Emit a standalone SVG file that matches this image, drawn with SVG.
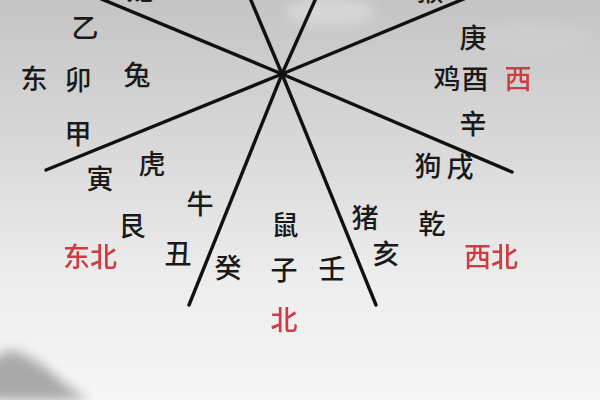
<svg xmlns="http://www.w3.org/2000/svg" width="600" height="400" viewBox="0 0 600 400">
<defs>
<linearGradient id="bg" x1="0" y1="0" x2="0" y2="1">
<stop offset="0" stop-color="#c4c4c4"/>
<stop offset="0.35" stop-color="#d8d8d8"/>
<stop offset="0.7" stop-color="#ededed"/>
<stop offset="1" stop-color="#f6f6f6"/>
</linearGradient>
<filter id="blur" x="-50%" y="-50%" width="200%" height="200%"><feGaussianBlur stdDeviation="6"/></filter>
<filter id="glow" x="-20%" y="-20%" width="140%" height="140%"><feGaussianBlur stdDeviation="0.6"/></filter>
<style>
.t{font-family:"Noto Sans CJK SC","Noto Sans",sans-serif;font-size:27px;font-weight:500;fill:#1a1a1a;text-anchor:middle;dominant-baseline:central}
.r{fill:#cf3a42}
.ln{stroke:#111;stroke-width:3.4;stroke-linecap:round;fill:none}
</style>
</defs>
<rect width="600" height="400" fill="url(#bg)"/>
<g id="scenery">
<ellipse cx="330" cy="12" rx="45" ry="14" fill="#e2e2e2" opacity="0.6" filter="url(#blur)"/>
<ellipse cx="530" cy="40" rx="60" ry="18" fill="#d2d2d2" opacity="0.5" filter="url(#blur)"/>
<path d="M-10 400 L-10 360 Q10 345 25 355 Q45 365 60 380 Q75 392 90 400 Z" fill="#a9a9a9" filter="url(#blur)"/>
</g>
<g id="connectors">
<line class="ln" x1="282" y1="74" x2="99" y2="-2"/>
<line class="ln" x1="282" y1="74" x2="46" y2="170"/>
<line class="ln" x1="282" y1="74" x2="250" y2="-2"/>
<line class="ln" x1="282" y1="74" x2="316" y2="-2"/>
<line class="ln" x1="282" y1="74" x2="466" y2="-2"/>
<line class="ln" x1="282" y1="74" x2="512" y2="172"/>
<line class="ln" x1="282" y1="74" x2="189" y2="305"/>
<line class="ln" x1="282" y1="74" x2="376" y2="305"/>
</g>
<g id="top-fragments">
<text class="t" x="140" y="-12">龙</text>
<text class="t" x="430" y="-11">猴</text>
</g>
<g id="east">
<text class="t" x="85" y="26">乙</text>
<text class="t" x="34" y="77">东</text>
<text class="t" x="78" y="78">卯</text>
<text class="t" x="137" y="73">兔</text>
<text class="t" x="78" y="132">甲</text>
</g>
<g id="northeast">
<text class="t" x="100" y="177">寅</text>
<text class="t" x="152" y="162">虎</text>
<text class="t" x="200" y="202">牛</text>
<text class="t" x="132" y="224">艮</text>
<text class="t" x="178" y="252">丑</text>
<text class="t r" x="90" y="255" filter="url(#glow)">东北</text>
</g>
<g id="north">
<text class="t" x="228" y="266">癸</text>
<text class="t" x="285" y="223">鼠</text>
<text class="t" x="284" y="268">子</text>
<text class="t" x="332" y="267">壬</text>
<text class="t r" x="284" y="318" filter="url(#glow)">北</text>
</g>
<g id="northwest">
<text class="t" x="365" y="216">猪</text>
<text class="t" x="386" y="252">亥</text>
<text class="t" x="432" y="222">乾</text>
<text class="t r" x="491" y="255" filter="url(#glow)">西北</text>
</g>
<g id="west">
<text class="t" x="473" y="36">庚</text>
<text class="t" x="447" y="77">鸡</text>
<text class="t" x="475" y="77">酉</text>
<text class="t r" x="518" y="77" filter="url(#glow)">西</text>
<text class="t" x="473" y="122">辛</text>
<text class="t" x="428" y="164">狗</text>
<text class="t" x="460" y="165">戌</text>
</g>
</svg>
